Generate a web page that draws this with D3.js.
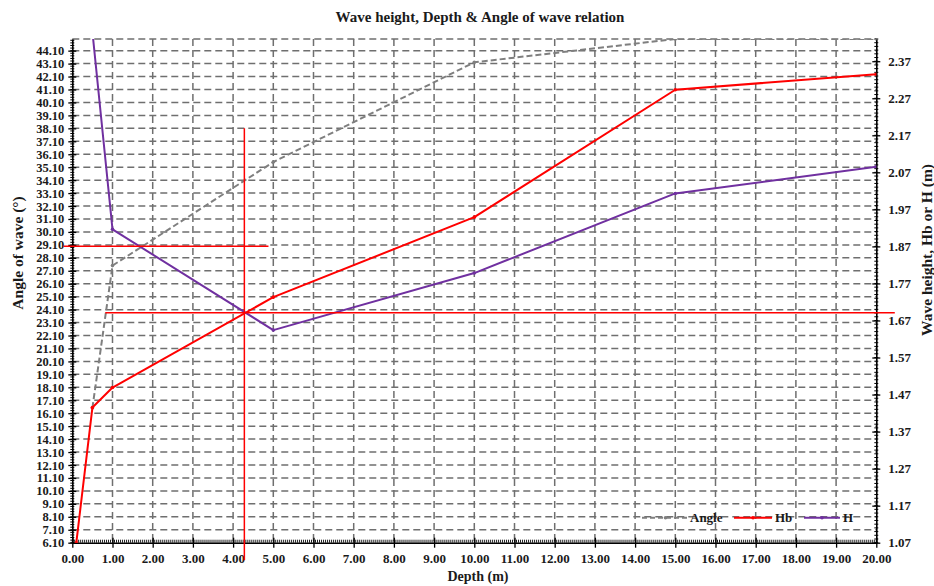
<!DOCTYPE html>
<html>
<head>
<meta charset="utf-8">
<script src="https://cdn.jsdelivr.net/npm/d3@7"></script>
<style>
  html, body { margin: 0; padding: 0; background: #fff; }
  text { font-family: "Liberation Serif", "Times New Roman", serif; font-weight: bold; fill: #1a1a1a; }
</style>
</head>
<body>
<svg id="chart" width="934" height="586"></svg>
<script>
// ---------------- data ----------------
const angleDepth = [0.5, 1, 5, 10, 15, 20];
const angleValues = [16.5, 27.5, 35.5, 43.2, 45.0, 45.0];

const hbDepth = [0.1, 0.5, 1, 5, 10, 15, 20];
const hbValues = [1.07, 1.435, 1.489, 1.733, 1.949, 2.293, 2.335];

const hDepth = [0.5, 1, 5, 10, 15, 20];
const hValues = [2.45, 1.916, 1.644, 1.798, 2.013, 2.085];

// red guide lines (data coordinates, left axis)
const guideVertical = { depth: 4.28, from: 4.75, to: 38.1 };
const guideHorizontal = [
  { angle: 23.86, from: 0.82, to: 20.46 },
  { angle: 29.0, from: -0.22, to: 4.88 }
];

const xTicks = d3.range(0, 21, 1);
const leftTicks = d3.range(0, 39).map(i => +(6.1 + i).toFixed(2));
const rightTicks = d3.range(0, 14).map(i => +(1.07 + i * 0.1).toFixed(2));

const legendItems = ["Angle", "Hb", "H"];

// ---------------- layout ----------------
const svg = d3.select("#chart");
const L = 72.3, R = 876.3, T = 39, B = 542.7;

const x = d3.scaleLinear().domain([0, 20]).range([L, R]);
const yL = d3.scaleLinear().domain([6.1, 45.0]).range([B, T]);
const yR = d3.scaleLinear().domain([1.07, 2.43]).range([B, T]);

const gridColor = "#6f6f6f";

// clip
svg.append("defs").append("clipPath").attr("id", "plotclip")
  .append("rect").attr("x", L).attr("y", T).attr("width", R - L).attr("height", B - T);

// grid horizontal
const grid = svg.append("g");
grid.selectAll("line.h").data(leftTicks.filter(d => d > 6.1).concat([45.0])).enter().append("line")
  .attr("x1", L).attr("x2", R)
  .attr("y1", d => yL(d)).attr("y2", d => yL(d))
  .attr("stroke", gridColor).attr("stroke-width", 1.5).attr("stroke-dasharray", "7,4");
grid.selectAll("line.v").data(xTicks.filter(d => d > 0 && d < 20)).enter().append("line")
  .attr("x1", d => x(d)).attr("x2", d => x(d))
  .attr("y1", T).attr("y2", B)
  .attr("stroke", gridColor).attr("stroke-width", 1.5).attr("stroke-dasharray", "7,4");

// axes
const axisColor = "#000";
const leftMinor = d3.range(0, 195).map(i => 6.1 + i * 0.2).filter(v => v <= 45.0);
svg.append("g").selectAll("line").data(leftMinor).enter().append("line")
  .attr("x1", L - 2).attr("x2", L + 2)
  .attr("y1", d => yL(d)).attr("y2", d => yL(d))
  .attr("stroke", axisColor).attr("stroke-width", 1);
const leftAxis = d3.axisLeft(yL).tickValues(leftTicks).tickFormat(d3.format(".2f")).tickSize(4).tickSizeOuter(0);
const gL = svg.append("g").attr("transform", `translate(${L},0)`).call(leftAxis);
gL.selectAll(".tick line").attr("x2", -4).attr("x1", 4).attr("stroke-width", 1.3);
gL.select(".domain").attr("stroke-width", 1.6);
gL.selectAll(".tick text").attr("x", -8).attr("font-size", 12.5).attr("font-family", "Liberation Serif").attr("font-weight", "bold").attr("fill", "#1a1a1a");

const rightMinor = d3.range(0, 137).map(i => 1.07 + i * 0.01).filter(v => v <= 2.43);
svg.append("g").selectAll("line").data(rightMinor).enter().append("line")
  .attr("x1", R - 2).attr("x2", R + 2)
  .attr("y1", d => yR(d)).attr("y2", d => yR(d))
  .attr("stroke", axisColor).attr("stroke-width", 1);
const rightAxis = d3.axisRight(yR).tickValues(rightTicks).tickFormat(d3.format(".2f")).tickSize(4).tickSizeOuter(0);
const gR = svg.append("g").attr("transform", `translate(${R},0)`).call(rightAxis);
gR.selectAll(".tick line").attr("x1", -4).attr("x2", 4).attr("stroke-width", 1.3);
gR.select(".domain").attr("stroke-width", 1.6);
gR.selectAll(".tick text").attr("x", 12).attr("font-size", 13).attr("font-family", "Liberation Serif").attr("font-weight", "bold").attr("fill", "#1a1a1a");

const xMinor = d3.range(0, 401).map(i => i * 0.05);
svg.append("g").selectAll("line").data(xMinor).enter().append("line")
  .attr("x1", d => x(d)).attr("x2", d => x(d))
  .attr("y1", B - 3).attr("y2", B)
  .attr("stroke", axisColor).attr("stroke-width", 0.9);
const bottomAxis = d3.axisBottom(x).tickValues(xTicks).tickFormat(d3.format(".2f")).tickSize(5).tickSizeOuter(0);
const gB = svg.append("g").attr("transform", `translate(0,${B})`).call(bottomAxis);
gB.selectAll(".tick line").attr("y1", -5).attr("y2", 5).attr("stroke-width", 1.3);
gB.select(".domain").attr("stroke-width", 1.6);
gB.selectAll(".tick text").attr("y", 11).attr("font-size", 13).attr("font-family", "Liberation Serif").attr("font-weight", "bold").attr("fill", "#1a1a1a");

// series
const plot = svg.append("g").attr("clip-path", "url(#plotclip)");
function series(depths, vals, yScale, color, width, dash) {
  const pts = depths.map((d, i) => [x(d), yScale(vals[i])]);
  plot.append("path").attr("d", d3.line()(pts))
    .attr("fill", "none").attr("stroke", color).attr("stroke-width", width)
    .attr("stroke-dasharray", dash || null).attr("stroke-linejoin", "round");
  plot.selectAll(null).data(pts).enter().append("circle")
    .attr("cx", d => d[0]).attr("cy", d => d[1]).attr("r", 1.8).attr("fill", color);
}
series(angleDepth, angleValues, yL, "#7f7f7f", 2, "6,3");
series(hbDepth, hbValues, yR, "#ff0000", 2, null);
series(hDepth, hValues, yR, "#7030a0", 2, null);

// guides
svg.append("line")
  .attr("x1", x(guideVertical.depth)).attr("x2", x(guideVertical.depth))
  .attr("y1", yL(guideVertical.from)).attr("y2", yL(guideVertical.to))
  .attr("stroke", "#ff0000").attr("stroke-width", 1.5);
svg.selectAll("line.gh").data(guideHorizontal).enter().append("line")
  .attr("x1", d => x(d.from)).attr("x2", d => x(d.to))
  .attr("y1", d => yL(d.angle)).attr("y2", d => yL(d.angle))
  .attr("stroke", "#ff0000").attr("stroke-width", 1.5);

// legend
const legendStyle = [
  { color: "#7f7f7f", dash: "5,3", x0: 642, x1: 689, tx: 690 },
  { color: "#ff0000", dash: null, x0: 734, x1: 772, tx: 775 },
  { color: "#7030a0", dash: null, x0: 804, x1: 840, tx: 843 }
];
const lg = svg.append("g");
legendItems.forEach((name, i) => {
  const s = legendStyle[i];
  const ly = 517.7;
  lg.append("line").attr("x1", s.x0).attr("x2", s.x1).attr("y1", ly).attr("y2", ly)
    .attr("stroke", s.color).attr("stroke-width", 2).attr("stroke-dasharray", s.dash);
  lg.append("circle").attr("cx", (s.x0 + s.x1) / 2).attr("cy", ly).attr("r", 1.8).attr("fill", s.color);
  lg.append("text").attr("x", s.tx).attr("y", ly).attr("dy", "0.35em").attr("font-size", 13).text(name);
});

// titles
svg.append("text").attr("x", 480).attr("y", 22).attr("text-anchor", "middle").attr("font-size", 15)
  .text("Wave height, Depth & Angle of wave relation");
svg.append("text").attr("x", 478).attr("y", 581).attr("text-anchor", "middle").attr("font-size", 14)
  .text("Depth (m)");
svg.append("text").attr("transform", "translate(18,253) rotate(-90)").attr("text-anchor", "middle")
  .attr("dy", "0.35em").attr("font-size", 15.5).text("Angle of wave (°)");
svg.append("text").attr("transform", "translate(927,250) rotate(-90)").attr("text-anchor", "middle")
  .attr("dy", "0.35em").attr("font-size", 15.5).text("Wave height, Hb or H (m)");
</script>
</body>
</html>
